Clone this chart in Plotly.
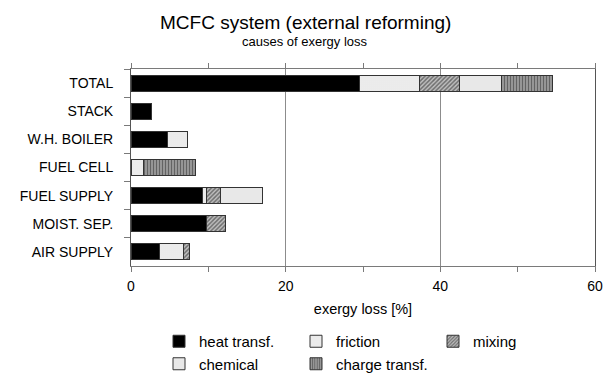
import plotly.graph_objects as go

categories = ["TOTAL", "STACK", "W.H. BOILER", "FUEL CELL", "FUEL SUPPLY", "MOIST. SEP.", "AIR SUPPLY"]
heat_transf = [29.6, 2.6, 4.7, None, 9.3, 9.8, 3.7]
friction = [7.7, None, 2.6, 1.6, 0.4, None, 3.1]
mixing = [5.2, None, None, None, 1.9, 2.4, 0.8]
chemical = [5.4, None, None, None, 5.4, None, None]
charge_transf = [6.6, None, None, 6.7, None, None, None]

series = [
    ("heat transf.", heat_transf, dict(shape="", fgcolor="black", bgcolor="black")),
    ("friction", friction, dict(shape=".", fgcolor="#b0b0b0", bgcolor="#f8f8f8", size=2, solidity=0.35)),
    ("mixing", mixing, dict(shape="/", fgcolor="#1a1a1a", bgcolor="#c0c0c0", size=3, solidity=0.5)),
    ("chemical", chemical, dict(shape="-", fgcolor="#a8a8a8", bgcolor="#f8f8f8", size=2, solidity=0.4)),
    ("charge transf.", charge_transf, dict(shape="|", fgcolor="#262626", bgcolor="#a0a0a0", size=3, solidity=0.45)),
]

fig = go.Figure()
for name, vals, pat in series:
    color = "black" if name == "heat transf." else "white"
    fig.add_trace(go.Bar(
        y=categories, x=vals, name=name, orientation="h",
        marker=dict(color=color, pattern=pat, line=dict(color="#333333", width=1)),
    ))

W, H = 603, 375
font_family = "Liberation Sans, Arial, sans-serif"
plot_top, plot_bottom, plot_left, plot_right = 69, 266, 131, 595
ph = plot_bottom - plot_top
pw = plot_right - plot_left

fig.update_layout(
    width=W, height=H,
    barmode="stack", bargap=0.43,
    plot_bgcolor="white", paper_bgcolor="white",
    font=dict(family=font_family, size=14, color="black"),
    margin=dict(l=plot_left, r=W - plot_right, t=plot_top, b=H - plot_bottom, autoexpand=False),
    showlegend=True,
    legend=dict(orientation="h", x=(159 - plot_left) / pw, y=-(325 - plot_bottom) / ph,
                xanchor="left", yanchor="top",
                entrywidth=92, entrywidthmode="pixels", traceorder="normal",
                font=dict(size=15), itemwidth=30),
    annotations=[
        dict(text="MCFC system (external reforming)", x=(305 - plot_left) / pw,
             y=1 + (plot_top - 22) / ph, xref="paper", yref="paper",
             showarrow=False, font=dict(size=19), yanchor="middle"),
        dict(text="causes of exergy loss", x=(305 - plot_left) / pw,
             y=1 + (plot_top - 41) / ph, xref="paper", yref="paper",
             showarrow=False, font=dict(size=13), yanchor="middle"),
    ],
)

fig.update_xaxes(
    range=[0, 60], dtick=20, tick0=0, automargin=False, ticklabeloverflow="allow",
    showgrid=True, gridcolor="#8c8c8c", gridwidth=1,
    showline=True, linecolor="#7a7a7a", linewidth=1, mirror="ticks",
    ticks="outside", ticklen=5, tickcolor="#7a7a7a", ticklabelstandoff=2,
    tickfont=dict(size=14),
    minor=dict(dtick=10, ticks="outside", ticklen=5, tickcolor="#7a7a7a", showgrid=False),
    title=dict(text="exergy loss [%]", standoff=11, font=dict(size=14.5)),
    zeroline=False, fixedrange=True,
)
fig.update_yaxes(
    categoryorder="array", categoryarray=categories, autorange="reversed", automargin=False,
    showline=True, linecolor="#555555", linewidth=1, mirror=True,
    ticks="outside", ticklen=6, tickcolor="#7a7a7a", tickson="boundaries",
    ticklabelstandoff=14, tickfont=dict(size=14),
    showgrid=False,
)

# remove the default 8px page margin so the figure fills the window exactly
fig.write_html(
    "out.html",
    config={"displayModeBar": False},
    post_script="document.body.style.margin='0';document.body.style.overflow='hidden';",
)
